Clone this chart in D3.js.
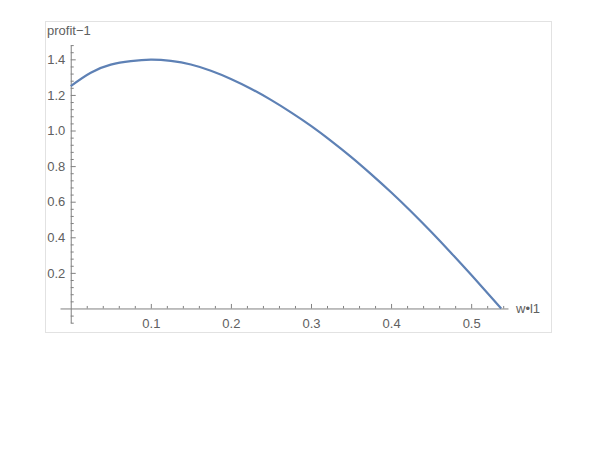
<!DOCTYPE html>
<html>
<head>
<meta charset="utf-8">
<script src="https://cdn.jsdelivr.net/npm/d3@7"></script>
<style>
  html, body { margin: 0; padding: 0; background: #fff; }
  svg { display: block; }
</style>
</head>
<body>
<svg id="chart" width="600" height="450"></svg>
<script>
// ---- data ----
const xValues = [0, 0.025, 0.05, 0.075, 0.1, 0.125, 0.15, 0.175, 0.2, 0.225, 0.25, 0.275, 0.3, 0.325, 0.35, 0.375, 0.4, 0.425, 0.45, 0.475, 0.5, 0.5375];
const profitValues = [1.25, 1.325, 1.37, 1.39, 1.398, 1.391, 1.371, 1.336, 1.29, 1.235, 1.172, 1.102, 1.026, 0.942, 0.852, 0.755, 0.653, 0.545, 0.431, 0.312, 0.189, 0];
const xMajorTicks = [0.1, 0.2, 0.3, 0.4, 0.5];
const xTickLabels = ["0.1", "0.2", "0.3", "0.4", "0.5"];
const yMajorTicks = [0.2, 0.4, 0.6, 0.8, 1.0, 1.2, 1.4];
const yTickLabels = ["0.2", "0.4", "0.6", "0.8", "1.0", "1.2", "1.4"];
const xAxisTitle = "w•l1";
const yAxisTitle = "profit−1";

const svg = d3.select("#chart");

// frame
svg.append("rect")
  .attr("x", 45.5).attr("y", 21.5)
  .attr("width", 506).attr("height", 311)
  .attr("fill", "none").attr("stroke", "#e2e2e2").attr("stroke-width", 1);

const x = d3.scaleLinear().domain([-0.0134, 0.546]).range([60, 508]);
const y = d3.scaleLinear().domain([-0.08, 1.48]).range([322.7, 45.1]);

const axisColor = "#808080";
const textColor = "#606060";
const font = "'Liberation Sans', Arial, sans-serif";
const fontSize = 13;

// minor ticks
const xMinor = d3.range(0, 0.546, 0.02).map(v => +v.toFixed(2)).filter(v => !xMajorTicks.some(m => Math.abs(m - v) < 1e-9) && v !== 0);
const yMinor = d3.range(-0.08, 1.481, 0.04).map(v => +v.toFixed(2)).filter(v => !yMajorTicks.some(m => Math.abs(m - v) < 1e-9) && Math.abs(v) > 1e-9);

// X axis
const gx = svg.append("g").attr("transform", `translate(0,${y(0)})`);
gx.call(d3.axisBottom(x).tickValues(xMajorTicks).tickFormat((d, i) => xTickLabels[i])
  .tickSizeInner(-4.5).tickSizeOuter(0).tickPadding(10.5));
const gxm = svg.append("g").attr("transform", `translate(0,${y(0)})`);
gxm.call(d3.axisBottom(x).tickValues(xMinor).tickFormat("").tickSizeInner(-2.5).tickSizeOuter(0));
gxm.select(".domain").remove();

// Y axis
const gy = svg.append("g").attr("transform", `translate(${x(0)},0)`);
gy.call(d3.axisLeft(y).tickValues(yMajorTicks).tickFormat((d, i) => yTickLabels[i])
  .tickSizeInner(-5).tickSizeOuter(0).tickPadding(5.5));
const gym = svg.append("g").attr("transform", `translate(${x(0)},0)`);
gym.call(d3.axisLeft(y).tickValues(yMinor).tickFormat("").tickSizeInner(-3).tickSizeOuter(0));
gym.select(".domain").remove();

svg.selectAll(".domain, .tick line").attr("stroke", axisColor).attr("stroke-width", 1);
svg.selectAll(".tick text").attr("fill", textColor).attr("font-family", font).attr("font-size", fontSize);

// axis titles
svg.append("text")
  .attr("x", 47).attr("y", 35)
  .attr("fill", textColor).attr("font-family", font).attr("font-size", fontSize)
  .text(yAxisTitle);
svg.append("text")
  .attr("x", 516).attr("y", y(0) + 4.5)
  .attr("fill", textColor).attr("font-family", font).attr("font-size", fontSize)
  .text(xAxisTitle);

// curve
const data = xValues.map((v, i) => ({ x: v, y: profitValues[i] }));
svg.append("path")
  .datum(data)
  .attr("fill", "none")
  .attr("stroke", "#5e81b5")
  .attr("stroke-width", 2.2)
  .attr("stroke-linejoin", "round")
  .attr("d", d3.line().x(d => x(d.x)).y(d => y(d.y)).curve(d3.curveNatural));
</script>
</body>
</html>
